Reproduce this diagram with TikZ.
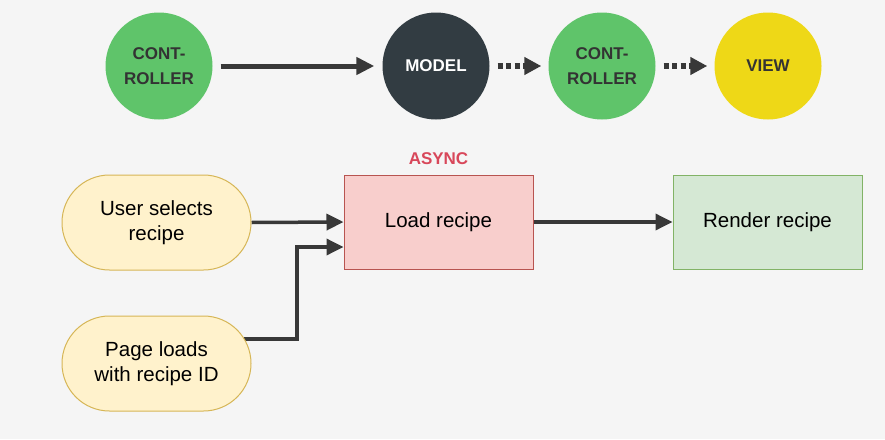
\documentclass[tikz,border=0pt]{standalone}
\usepackage{fontspec}
\setmainfont{Liberation Sans}
\usetikzlibrary{arrows.meta,backgrounds,calc}
\definecolor{bgc}{HTML}{F5F5F5}
\definecolor{ctrlgreen}{HTML}{5FC46A}
\definecolor{modeldark}{HTML}{323C42}
\definecolor{viewyellow}{HTML}{EED817}
\definecolor{txtdark}{HTML}{333333}
\definecolor{arrowdark}{HTML}{383838}
\definecolor{evfill}{HTML}{FFF2CC}
\definecolor{evdraw}{HTML}{D6B656}
\definecolor{loadfill}{HTML}{F8CECC}
\definecolor{loaddraw}{HTML}{B85450}
\definecolor{rendfill}{HTML}{D5E8D4}
\definecolor{renddraw}{HTML}{82B366}
\definecolor{asyncred}{HTML}{D8475A}
\begin{document}
\begin{tikzpicture}[x=1pt,y=-1pt,
  mvc/.style={circle,minimum size=107pt,inner sep=0pt,draw=none,align=center,
    font=\bfseries\fontsize{17}{25}\selectfont,text=txtdark},
  event/.style={rectangle,rounded corners=47.5pt,minimum width=189pt,minimum height=95pt,
    fill=evfill,draw=evdraw,line width=1pt,align=center,font=\fontsize{20.5}{24.5}\selectfont,text=black},
  procbox/.style={rectangle,minimum width=189pt,minimum height=94pt,line width=1pt,
    align=center,font=\fontsize{20.5}{24.5}\selectfont,text=black},
  bigarrow/.style={draw=arrowdark,line width=5pt,-{Triangle[length=18pt,width=17pt]}},
  dotarrow/.style={draw=arrowdark,line width=5.5pt,dash pattern=on 5pt off 3.5pt,
    -{Triangle[length=17pt,width=17pt]}},
  flowarrow/.style={draw=arrowdark,line width=3.5pt,-{Triangle[length=17pt,width=16pt]}}
]
\useasboundingbox (0,0) rectangle (885,439);

% top row
\node[mvc,fill=ctrlgreen] (c1) at (159,66) {CONT-\\ROLLER};
\node[mvc,fill=modeldark,text=white] (model) at (436,66) {MODEL};
\node[mvc,fill=ctrlgreen] (c2) at (602,66) {CONT-\\ROLLER};
\node[mvc,fill=viewyellow] (view) at (768,66) {VIEW};

\draw[bigarrow,shorten <=8pt,shorten >=8pt] (c1) -- (model);
\draw[dotarrow,shorten <=8pt,shorten >=7pt] (model) -- (c2);
\draw[dotarrow,shorten <=8pt,shorten >=7pt] (c2) -- (view);

% bottom row
\node[event] (user) at (156.5,222.5) {User selects\\recipe};
\node[event] (page) at (156.5,363.5) {Page loads\\with recipe ID};
\node[procbox,fill=loadfill,draw=loaddraw] (load) at (438.5,222) {Load recipe};
\node[procbox,fill=rendfill,draw=renddraw] (render) at (767.5,222) {Render recipe};
\node[font=\bfseries\fontsize{17}{20}\selectfont,text=asyncred] (async) at (438.5,159) {ASYNC};

\coordinate (bend) at (297,339);
\coordinate (pin) at ($(load.west)+(0,25)$);
\begin{scope}[on background layer]
\fill[bgc] (0,0) rectangle (885,439);
\draw[flowarrow] (user.east) -- (load.west);
\draw[flowarrow] ($(page.east)+(-8,-24.5)$) -- (bend) -- (bend |- pin) -- (pin);
\draw[flowarrow] (load.east) -- (render.west);
\end{scope}
\end{tikzpicture}
\end{document}
